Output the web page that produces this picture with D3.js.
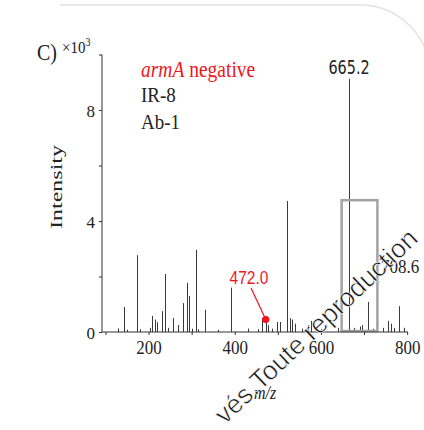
<!DOCTYPE html>
<html lang="en">
  <head>
    <meta charset="UTF-8" />
    <script src="https://cdnjs.cloudflare.com/ajax/libs/d3/7.8.5/d3.min.js"></script>
    <title>armA negative spectrum</title>
    <style>
      body {
        margin: 0;
        background: #fff;
      }
      text {
        font-family: "Liberation Serif", "Times New Roman", serif;
        fill: #222;
      }
      .axis path,
      .axis line {
        stroke: #333;
      }
      .axis text {
        font-size: 17px;
      }
      .peak {
        stroke: #3a3a3a;
        stroke-width: 1;
      }
      .red {
        fill: #f2151c;
      }
    </style>
  </head>
  <body>
    <script>
      // peaks: m/z and intensity (x10^3)
      const peakMz = [
        130, 142, 150, 173, 180, 203, 209, 214, 219, 231, 238, 244, 257, 269,
        280, 290, 294, 300, 309, 315, 331, 360, 392, 431, 455, 463, 472, 478,
        487, 499, 505, 522, 528, 533, 540, 555, 570, 577, 600, 640, 665.2, 676,
        690, 696, 708.6, 720, 745, 756, 763, 770, 782, 793,
      ];
      const peakInt = [
        0.13, 0.9, 0.08, 2.77, 0.1, 0.15, 0.58, 0.45, 0.35, 0.75, 2.09, 0.15,
        0.5, 0.25, 1.04, 1.77, 1.3, 0.12, 2.96, 0.1, 0.8, 0.08, 1.6, 0.12, 0.1,
        0.5, 0.45, 0.25, 0.12, 0.36, 0.36, 4.72, 0.5, 0.45, 0.3, 0.12, 0.25,
        0.4, 0.1, 0.15, 9.12, 0.15, 0.2, 0.25, 1.08, 0.12, 0.15, 0.4, 0.3, 0.15,
        0.93, 0.15,
      ];
      const xTicks = [100, 200, 300, 400, 500, 600, 700, 800];
      const yTicks = [0, 2, 4, 6, 8, 10];
      const boxRange = [648, 731]; // m/z window of the grey box
      const boxTop = 4.75;
      const markedMz = 472.0;
      const markedInt = 0.45;
      const legendLines = ["IR-8", "Ab-1"];

      const peaks = peakMz.map((m, i) => ({ mz: m, value: peakInt[i] }));

      const svg = d3
        .select("body")
        .append("svg")
        .attr("width", 424)
        .attr("height", 430);

      // light frame corner
      svg
        .append("path")
        .attr("d", "M 60 5 H 360 A 70 70 0 0 1 430 75")
        .attr("fill", "none")
        .attr("stroke", "#e2e2e2")
        .attr("stroke-width", 1.5);

      const x = d3.scaleLinear().domain([92, 802]).range([102, 408]);
      const y = d3.scaleLinear().domain([0, 10]).range([332, 54.5]);

      // peaks
      svg
        .append("g")
        .selectAll("line")
        .data(peaks)
        .enter()
        .append("line")
        .attr("class", "peak")
        .attr("x1", (d) => Math.round(x(d.mz)) + 0.5)
        .attr("x2", (d) => Math.round(x(d.mz)) + 0.5)
        .attr("y1", y(0))
        .attr("y2", (d) => y(d.value));

      // box around the region of interest
      svg
        .append("rect")
        .attr("x", x(boxRange[0]))
        .attr("y", y(boxTop))
        .attr("width", x(boxRange[1]) - x(boxRange[0]))
        .attr("height", y(0) - y(boxTop) - 1)
        .attr("fill", "none")
        .attr("stroke", "#a3a3a3")
        .attr("stroke-width", 2.5);

      // axes
      const xAxis = svg
        .append("g")
        .attr("class", "axis")
        .attr("transform", `translate(0,${y(0)})`)
        .call(
          d3
            .axisBottom(x)
            .tickValues(xTicks)
            .tickSize(3)
            .tickPadding(4)
            .tickFormat((d) => (d % 200 === 0 ? d : ""))
        );
      xAxis.select(".domain").attr("d", `M${x(92)},0H${x(802)}`);

      const yAxis = svg
        .append("g")
        .attr("class", "axis")
        .attr("transform", `translate(${x(92)},0)`)
        .call(
          d3
            .axisLeft(y)
            .tickValues(yTicks)
            .tickSize(3)
            .tickPadding(4)
            .tickFormat((d) => (d % 4 === 0 ? d : ""))
        );
      yAxis.select(".domain").attr("d", `M0,${y(10)}V${y(0)}`);

      svg.selectAll(".axis text").attr("fill", "#222");
      xAxis
        .selectAll(".tick text")
        .attr("transform", "scale(1,1.15)");
      yAxis.selectAll(".tick text").attr("dy", "0.4em");

      // axis titles
      svg
        .append("text")
        .attr("transform", "translate(62,187) rotate(-90)")
        .attr("text-anchor", "middle")
        .attr("font-size", 16)
        .attr("textLength", 84)
        .attr("lengthAdjust", "spacingAndGlyphs")
        .text("Intensity");

      svg
        .append("text")
        .attr("transform", "translate(265,399) scale(1,1.15)")
        .attr("text-anchor", "middle")
        .attr("font-size", 16)
        .attr("font-style", "italic")
        .text("m/z");

      // panel letter and multiplier
      svg
        .append("text")
        .attr("transform", "translate(37,60) scale(1,1.2)")
        .attr("font-size", 20)
        .text("C)");
      const mult = svg
        .append("text")
        .attr("transform", "translate(62,53) scale(1,1.15)")
        .attr("font-size", 15);
      mult.append("tspan").text("×10");
      mult.append("tspan").attr("font-size", 10).attr("dy", -6).text("3");

      // legend
      const leg = svg
        .append("text")
        .attr("class", "red")
        .attr("transform", "translate(141,77) scale(1,1.15)")
        .attr("font-size", 19.5);
      leg.append("tspan").attr("class", "red").attr("font-style", "italic").text("armA");
      leg.append("tspan").attr("class", "red").text(" negative");

      svg
        .append("g")
        .selectAll("text")
        .data(legendLines)
        .enter()
        .append("text")
        .attr("transform", (d, i) => `translate(141,${102 + i * 27}) scale(1,1.15)`)
        .attr("font-size", 19)
        .text((d) => d);

      // peak labels
      svg
        .append("text")
        .attr("transform", `translate(${x(665.2)},74) scale(1,1.2)`)
        .attr("text-anchor", "middle")
        .style("font-family", "'Liberation Sans Narrow', 'DejaVu Sans Condensed', sans-serif")
        .attr("font-size", 16)
        .text("665.2");

      svg
        .append("text")
        .attr("transform", "translate(381,273) scale(1,1.15)")
        .attr("font-size", 17)
        .text("708.6");

      // marked peak
      svg
        .append("line")
        .attr("x1", 251)
        .attr("y1", 288)
        .attr("x2", x(markedMz))
        .attr("y2", y(markedInt))
        .attr("stroke", "#f2151c")
        .attr("stroke-width", 1.2);
      svg
        .append("circle")
        .attr("cx", x(markedMz))
        .attr("cy", y(markedInt))
        .attr("r", 3.6)
        .attr("fill", "#f2151c");
      svg
        .append("text")
        .attr("class", "red")
        .attr("transform", "translate(249,284) scale(1,1.2)")
        .attr("text-anchor", "middle")
        .style("font-family", "'Liberation Sans', Arial, sans-serif")
        .attr("font-size", 15.5)
        .text(markedMz.toFixed(1));

      // watermark
      svg
        .append("text")
        .attr("transform", "translate(225,425) rotate(-43.5)")
        .style("font-family", "'Liberation Sans', Arial, sans-serif")
        .style("fill", "#111")
        .attr("font-size", 26.5)
        .attr("stroke", "#fff")
        .attr("stroke-width", 0.6)
        .text("vés.Toute reproduction");
    </script>
  </body>
</html>
